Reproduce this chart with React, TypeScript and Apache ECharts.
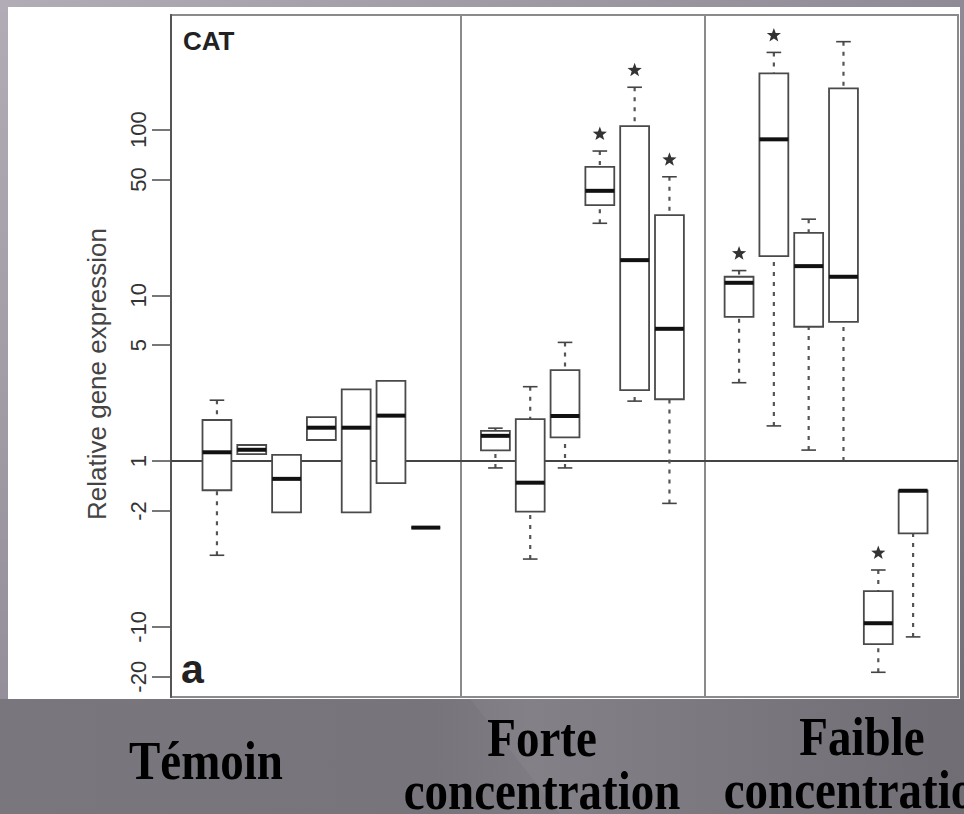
import { useEffect, useRef } from "react";
import * as echarts from "echarts";

// CAT relative expression, boxplots per condition (signed fold change:
// a negative value -k stands for a ratio of 1/k).
const GROUP_LABELS = ["Témoin", "Forte\nconcentration", "Faible\nconcentration"];
const GROUP_SIZES = [7, 6, 6];

const WHISKER_LOW = [
  -3.7, 1.1, -2.04, 1.34, -2.04, -1.36, -2.52,
  -1.1, -3.9, -1.1, 27.2, 2.3, -1.8,
  2.97, 1.63, 1.165, 1.0, -18.8, -11.5,
];
const Q1 = [
  -1.5, 1.1, -2.04, 1.34, -2.04, -1.36, -2.52,
  1.16, -2.02, 1.39, 35.0, 2.68, 2.36,
  7.42, 17.25, 6.46, 6.92, -12.7, -2.73,
];
const MEDIAN = [
  1.13, 1.17, -1.28, 1.59, 1.59, 1.88, -2.52,
  1.42, -1.35, 1.87, 42.7, 16.3, 6.28,
  11.9, 87.3, 15.0, 12.94, -9.51, -1.51,
];
const Q3 = [
  1.77, 1.25, 1.09, 1.84, 2.71, 3.05, -2.52,
  1.52, 1.79, 3.54, 59.6, 105, 30.5,
  12.94, 218, 23.8, 177, -6.09, -1.51,
];
const WHISKER_HIGH = [
  2.33, 1.25, 1.09, 1.84, 2.71, 3.05, -2.52,
  1.58, 2.81, 5.2, 74.2, 180, 51.9,
  14.1, 292, 28.8, 339, -4.54, -1.51,
];
const SIGNIFICANT = [
  0, 0, 0, 0, 0, 0, 0,
  0, 0, 0, 1, 1, 1,
  1, 1, 0, 0, 1, 0,
];

const Y_TICKS = [100, 50, 10, 5, 1, -2, -10, -20];
const Y_RANGE = [-26.5, 491];

const toLog = (fc: number) => (fc < 0 ? -Math.log10(-fc) : Math.log10(fc));

// x positions: one slot per box, an empty slot between conditions
const positions: number[] = [];
const separators: number[] = [];
{
  let p = 1;
  GROUP_SIZES.forEach((n, gi) => {
    for (let i = 0; i < n; i++) positions.push(p++);
    if (gi < GROUP_SIZES.length - 1) separators.push(p++);
  });
}

const boxData = positions.map((x, i) => [
  x,
  toLog(WHISKER_LOW[i]),
  toLog(Q1[i]),
  toLog(MEDIAN[i]),
  toLog(Q3[i]),
  toLog(WHISKER_HIGH[i]),
  SIGNIFICANT[i],
]);

const BOX_W = 0.83;
const CAP_W = 0.42;

function starPoints(cx: number, cy: number, R: number, r: number) {
  const pts: number[][] = [];
  for (let k = 0; k < 10; k++) {
    const a = -Math.PI / 2 + (k * Math.PI) / 5;
    const rad = k % 2 === 0 ? R : r;
    pts.push([cx + rad * Math.cos(a), cy + rad * Math.sin(a)]);
  }
  return pts;
}

function renderBox(_params: any, api: any) {
  const x = api.value(0);
  const lo = api.value(1);
  const q1 = api.value(2);
  const md = api.value(3);
  const q3 = api.value(4);
  const hi = api.value(5);
  const sig = api.value(6);
  const cx = api.coord([x, md])[0];
  const left = api.coord([x - BOX_W / 2, md])[0];
  const right = api.coord([x + BOX_W / 2, md])[0];
  const capL = api.coord([x - CAP_W / 2, md])[0];
  const capR = api.coord([x + CAP_W / 2, md])[0];
  const yLo = api.coord([x, lo])[1];
  const yQ1 = api.coord([x, q1])[1];
  const yMd = api.coord([x, md])[1];
  const yQ3 = api.coord([x, q3])[1];
  const yHi = api.coord([x, hi])[1];
  const whisker = { stroke: "#555", lineWidth: 2.2, lineDash: [4, 6] };
  const cap = { stroke: "#444", lineWidth: 1.6 };
  const children: any[] = [];
  if (hi > q3) {
    children.push({ type: "line", shape: { x1: cx, y1: yHi, x2: cx, y2: yQ3 }, style: whisker });
    children.push({ type: "line", shape: { x1: capL, y1: yHi, x2: capR, y2: yHi }, style: cap });
  }
  if (lo < q1) {
    children.push({ type: "line", shape: { x1: cx, y1: yLo, x2: cx, y2: yQ1 }, style: whisker });
    children.push({ type: "line", shape: { x1: capL, y1: yLo, x2: capR, y2: yLo }, style: cap });
  }
  children.push({
    type: "rect",
    shape: { x: left, y: yQ3, width: right - left, height: yQ1 - yQ3 },
    style: { fill: "#fff", stroke: "#4a4a4a", lineWidth: 1.8 },
  });
  children.push({
    type: "line",
    shape: { x1: left, y1: yMd, x2: right, y2: yMd },
    style: { stroke: "#111", lineWidth: 4 },
  });
  if (sig) {
    children.push({
      type: "polygon",
      shape: { points: starPoints(cx, yHi - 17, 7.5, 3.1) },
      style: { fill: "#333" },
    });
  }
  return { type: "group", children };
}

const SERIF = '"Liberation Serif", "Times New Roman", serif';
const SANS = '"Liberation Sans", Arial, Helvetica, sans-serif';
const LABEL_X = [206, 542, 862];
const LABEL_Y = [761, 764, 763];

const option: any = {
  animation: false,
  backgroundColor: {
    type: "linear",
    x: 0, y: 0, x2: 1, y2: 1,
    colorStops: [
      { offset: 0, color: "#b2acb6" },
      { offset: 0.5, color: "#8f8a95" },
      { offset: 1, color: "#6e6a73" },
    ],
  },
  grid: {
    left: 171,
    top: 15,
    width: 787,
    height: 682,
    show: true,
    backgroundColor: "transparent",
    borderColor: "#8a8a8a",
    borderWidth: 2,
  },
  xAxis: {
    type: "value",
    min: -0.32,
    max: 22.29,
    show: false,
    splitLine: { show: false },
  },
  yAxis: {
    type: "value",
    min: toLog(Y_RANGE[0]),
    max: toLog(Y_RANGE[1]),
    splitLine: { show: false },
    axisLine: { show: true, onZero: false, lineStyle: { color: "#555", width: 2 } },
    axisTick: {
      show: true,
      length: 19,
      customValues: Y_TICKS.map(toLog),
      lineStyle: { color: "#555", width: 1.6 },
    },
    axisLabel: {
      customValues: Y_TICKS.map(toLog),
      rotate: 90,
      margin: 22,
      fontSize: 22,
      fontFamily: SANS,
      color: "#333",
      formatter: (v: number) => {
        const r = Math.pow(10, v);
        return r >= 1 ? String(Math.round(r)) : "-" + Math.round(1 / r);
      },
    },
    name: "Relative gene expression",
    nameLocation: "middle",
    nameRotate: 90,
    nameGap: 61,
    nameTextStyle: { fontSize: 26, fontFamily: SANS, color: "#444", padding: [0, 36, 0, 0] },
  },
  series: [
    {
      type: "custom",
      renderItem: renderBox,
      data: boxData,
      encode: { x: 0, y: [1, 2, 3, 4, 5] },
      z: 5,
      markLine: {
        silent: true,
        symbol: "none",
        label: { show: false },
        data: [
          ...separators.map((s) => ({ xAxis: s, lineStyle: { color: "#8a8a8a", width: 2, type: "solid" } })),
          { yAxis: 0, lineStyle: { color: "#444", width: 2, type: "solid" } },
        ],
      },
    },
  ],
  graphic: [
    {
      type: "rect",
      z: -10,
      shape: { x: 8, y: 7, width: 952, height: 692 },
      style: { fill: "#ffffff" },
    },
    {
      type: "rect",
      z: -10,
      shape: { x: 0, y: 699, width: 964, height: 115 },
      style: {
        fill: {
          type: "linear",
          x: 0, y: 0, x2: 1, y2: 0,
          colorStops: [
            { offset: 0, color: "#7a767e" },
            { offset: 0.45, color: "#78747c" },
            { offset: 0.55, color: "#7f7b83" },
            { offset: 1, color: "#6c6870" },
          ],
        },
      },
    },
    {
      type: "polygon",
      z: -9,
      shape: { points: [[470, 699], [964, 699], [964, 814], [560, 814]] },
      style: { fill: "rgba(255,255,255,0.04)" },
    },
    {
      type: "text",
      z: 50,
      x: 183,
      y: 28,
      style: { text: "CAT", fontFamily: SANS, fontWeight: "bold", fontSize: 26, fill: "#222" },
    },
    {
      type: "text",
      z: 50,
      x: 181,
      y: 648,
      style: { text: "a", fontFamily: SANS, fontWeight: "bold", fontSize: 41, fill: "#222" },
    },
    ...GROUP_LABELS.map((t, i) => ({
      type: "text",
      z: 50,
      x: LABEL_X[i],
      y: LABEL_Y[i],
      scaleY: 1.15,
      style: {
        text: t,
        x: 0,
        y: 0,
        align: "center",
        verticalAlign: "middle",
        fontFamily: SERIF,
        fontWeight: "bold",
        fontSize: 47,
        lineHeight: 46,
        fill: "#000",
      },
    })),
  ],
};

export default function App() {
  const ref = useRef<HTMLDivElement>(null);
  useEffect(() => {
    document.body.style.margin = "0";
    const chart = echarts.init(ref.current!, null, { renderer: "svg", width: 964, height: 814 });
    chart.setOption(option);
    return () => chart.dispose();
  }, []);
  return <div ref={ref} style={{ width: 964, height: 814 }} />;
}
